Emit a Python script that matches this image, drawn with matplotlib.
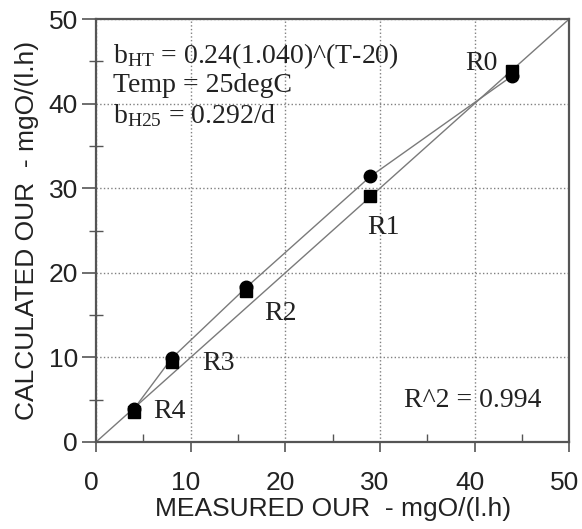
import numpy as np
import matplotlib.pyplot as plt
import matplotlib.transforms as mtransforms
from matplotlib.ticker import MultipleLocator

plt.rcParams['mathtext.fontset'] = 'custom'
plt.rcParams['mathtext.rm'] = 'Liberation Serif'

# Datos de los reactores R0..R4
reactores = ['R0', 'R1', 'R2', 'R3', 'R4']
our_medido = [44.0, 29.0, 15.9, 8.0, 4.0]
our_calc_circ = [43.3, 31.4, 18.3, 9.9, 3.9]
our_calc_cuad = [43.8, 29.1, 17.9, 9.5, 3.5]

# posiciones de las etiquetas (centro)
etq_x = [40.7, 30.4, 19.5, 12.9, 7.7]
etq_y = [44.7, 25.4, 15.2, 9.3, 3.6]

fig = plt.figure(figsize=(5.82, 5.29), dpi=100)
ax = fig.add_axes([0.165, 0.1645, 0.813, 0.7995])

gris = '#7a7a7a'
texto = '#222222'
ax.plot([0, 50], [0, 50], color=gris, linewidth=1.0, zorder=2)
ax.plot(our_medido, our_calc_circ, color=gris, linewidth=1.0, zorder=2)
ax.plot(our_medido, our_calc_cuad, 's', color='black', markersize=9, zorder=3)
ax.plot(our_medido, our_calc_circ, 'o', color='black', markersize=9, zorder=4)

serif = 'Liberation Serif'
for r, x, y in zip(reactores, etq_x, etq_y):
    ax.text(x, y, r, fontsize=20, family=serif, ha='center', va='center', color=texto)

ax.text(1.8, 44.8, r'$\mathrm{b_{HT}}$ = 0.24(1.040)^(T-20)', fontsize=20, family=serif,
        va='baseline', color=texto)
ax.text(1.8, 41.4, 'Temp = 25degC', fontsize=20, family=serif, va='baseline', color=texto)
ax.text(1.8, 37.7, r'$\mathrm{b_{H25}}$ = 0.292/d', fontsize=20, family=serif,
        va='baseline', color=texto)
ax.text(39.85, 4.85, 'R^2 = 0.994', fontsize=20, family=serif, ha='center', va='center',
        color=texto)

ax.set_xlim(0, 50)
ax.set_ylim(0, 50)
ax.xaxis.set_major_locator(MultipleLocator(10))
ax.xaxis.set_minor_locator(MultipleLocator(5))
ax.yaxis.set_major_locator(MultipleLocator(10))
ax.yaxis.set_minor_locator(MultipleLocator(5))
ax.grid(True, which='major', linestyle=':', color='#808080', linewidth=1.0)

ax.tick_params(axis='x', which='major', direction='out', length=7, width=1.2, color='#555555',
               labelsize=19, pad=14)
ax.tick_params(axis='x', which='minor', direction='in', length=6, width=1.0, color='#555555')
ax.tick_params(axis='y', which='major', direction='out', length=10, width=1.2, color='#555555',
               labelsize=19, pad=3)
ax.tick_params(axis='y', which='minor', direction='inout', length=10, width=1.0, color='#555555')

# etiquetas del eje x un poco a la izquierda
desplaza = mtransforms.ScaledTranslation(-5 / 100, 0, fig.dpi_scale_trans)
for tick in ax.xaxis.get_major_ticks():
    tick.label1.set_transform(tick.label1.get_transform() + desplaza)
for lab in ax.get_xticklabels() + ax.get_yticklabels():
    lab.set_family('Liberation Sans')
    lab.set_color(texto)

for s in ax.spines.values():
    s.set_color('#555555')
    s.set_linewidth(1.6)

ax.set_xlabel('MEASURED OUR  - mgO/(l.h)', fontsize=19, family='Liberation Sans', color=texto)
ax.set_ylabel('CALCULATED OUR  - mgO/(l.h)', fontsize=19, family='Liberation Sans', color=texto)
ax.xaxis.set_label_coords(0.5, -0.13)
ax.yaxis.set_label_coords(-0.12, 0.5)

fig.savefig('out.png', dpi=100)
